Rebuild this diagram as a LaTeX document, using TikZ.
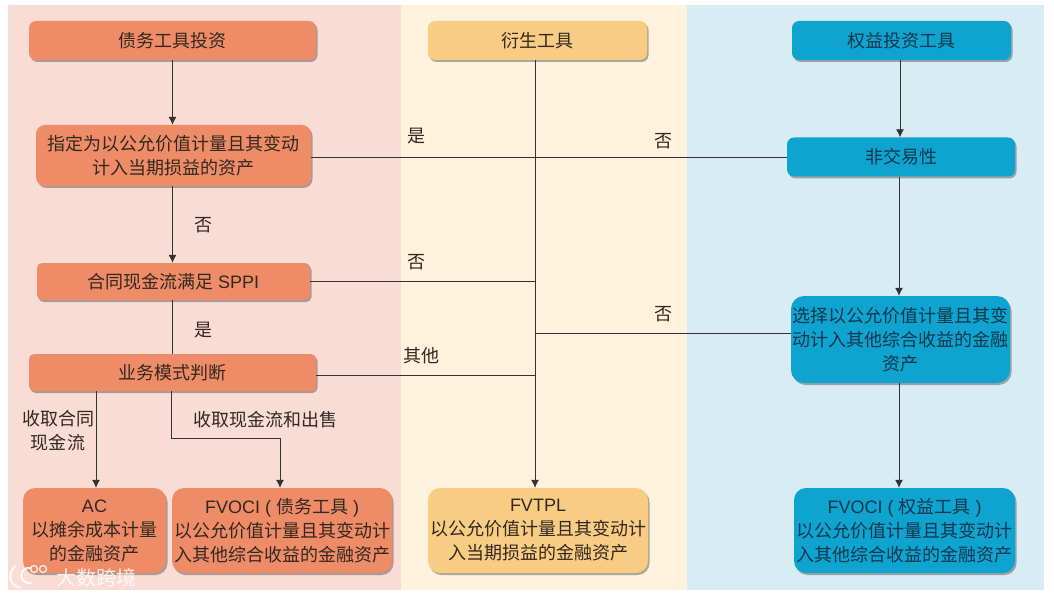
\documentclass[tikz,border=0pt]{standalone}
\usepackage{fontspec}
\setmainfont{Noto Sans CJK SC}
\newfontfamily\latf{Liberation Sans}
\usetikzlibrary{shadows,arrows.meta}
\definecolor{bgpink}{HTML}{F9DCD3}
\definecolor{bgcream}{HTML}{FEF2DC}
\definecolor{bgblue}{HTML}{D8ECF4}
\definecolor{orbox}{HTML}{EE8C68}
\definecolor{yebox}{HTML}{F9CC83}
\definecolor{blbox}{HTML}{0FA3CF}
\definecolor{inkdark}{HTML}{33281F}
\definecolor{inkblue}{HTML}{11384F}
\tikzset{
  fs/.style={font=\fontsize{18}{24}\selectfont},
  box/.style={rounded corners=#1,align=center,fs,text=inkdark,inner sep=0pt,
     drop shadow={shadow xshift=1.5pt,shadow yshift=-2pt,opacity=.45,fill=black!70}},
  box/.default=7pt,
  orb/.style={box=#1,fill=orbox},
  orb/.default=7pt,
  yeb/.style={box=#1,fill=yebox},
  yeb/.default=7pt,
  blb/.style={box=#1,fill=blbox,text=inkblue},
  blb/.default=7pt,
  lab/.style={fs,text=inkdark,inner sep=0pt,align=center},
  flow/.style={draw=black!80,line width=.8pt},
  arr/.style={flow,-{Latex[length=8pt,width=8pt]}},
}
\begin{document}
\begin{tikzpicture}[x=1pt,y=-1pt]
\useasboundingbox (0,0) rectangle (1054,596);
\fill[white] (0,0) rectangle (1054,596);
\fill[bgpink] (8,5) rectangle (401,590);
\fill[bgcream] (401,5) rectangle (687,590);
\fill[bgblue] (687,5) rectangle (1044,590);

\node[orb,minimum width=287pt,minimum height=39pt] (debt) at (172.5,40.5) {债务工具投资};
\node[orb=9pt,minimum width=275pt,minimum height=61pt] (desig) at (173.5,155.5) {指定为以公允价值计量且其变动\\计入当期损益的资产};
\node[orb=5pt,minimum width=273pt,minimum height=37pt] (sppi) at (173.5,281.5) {合同现金流满足 {\latf SPPI}};
\node[orb=5pt,minimum width=287pt,minimum height=37pt] (model) at (172.5,372.5) {业务模式判断};
\node[orb=12pt,minimum width=143pt,minimum height=85pt] (ac) at (94.5,530.5) {{\latf AC}\\以摊余成本计量\\的金融资产};
\node[orb=12pt,minimum width=220pt,minimum height=85pt] (fvd) at (282,530.5) {{\latf FVOCI ( }债务工具{\latf{} )}\\以公允价值计量且其变动计\\入其他综合收益的金融资产};

\node[yeb,minimum width=219pt,minimum height=39pt] (deriv) at (537.5,40.5) {衍生工具};
\node[yeb=12pt,minimum width=220pt,minimum height=85pt] (fvtpl) at (538,530.5) {{\latf FVTPL}\\以公允价值计量且其变动计\\入当期损益的金融资产};

\node[blb,minimum width=219pt,minimum height=39pt] (equity) at (901.5,40.5) {权益投资工具};
\node[blb,minimum width=228pt,minimum height=39pt] (nontrade) at (901,157) {非交易性};
\node[blb=13pt,minimum width=219pt,minimum height=87pt] (choose) at (900.5,339.5) {选择以公允价值计量且其变\\动计入其他综合收益的金融\\资产};
\node[blb=12pt,minimum width=221pt,minimum height=85pt] (fve) at (904.5,530.5) {{\latf FVOCI ( }权益工具{\latf{} )}\\以公允价值计量且其变动计\\入其他综合收益的金融资产};

% helper points
\coordinate (trunk) at (535,60);
\coordinate (acx) at (96,391);
\coordinate (fvx) at (171,391);
\coordinate (bend) at (171,438);
\coordinate (leftx) at (172,300);

\draw[arr] (debt.south) -- (desig.north -| debt.south);
\draw[arr] (desig.south -| debt.south) -- (sppi.north -| debt.south);
\draw[flow] (leftx) -- (model.north -| leftx);
\draw[arr] (acx) -- (ac.north -| acx);
\draw[arr] (fvx) -- (bend) -| (fvd.north -| 280,0);
\draw[arr] (trunk) -- (fvtpl.north -| trunk);
\draw[flow] (desig.east |- nontrade.west) -- (nontrade.west);
\draw[flow] (sppi.east) -- (sppi.east -| trunk);
\draw[flow] (model.east |- 0,375) -- (trunk |- 0,375);
\draw[flow] (trunk |- 0,333) -- (choose.west |- 0,333);
\draw[arr] (equity.south -| 900,0) -- (nontrade.north -| 900,0);
\draw[arr] (nontrade.south -| 899,0) -- (choose.north -| 899,0);
\draw[arr] (choose.south -| 899,0) -- (fve.north -| 899,0);

\node[lab] (l1) at (416,136) {是};
\node[lab] (l2) at (663,141) {否};
\node[lab] (l3) at (203,225) {否};
\node[lab] (l4) at (416,262) {否};
\node[lab] (l5) at (203,330) {是};
\node[lab] (l6) at (663,314) {否};
\node[lab] (l7) at (421,356) {其他};
\node[lab] (l8) at (58,431) {收取合同\\现金流};
\node[lab] (l9) at (265,420) {收取现金流和出售};

% watermark
\draw[white,opacity=.85,line width=2pt,line cap=round] (15,566) .. controls (7,574) and (10,587) .. (20,587) (31,568) .. controls (19,566) and (17,584) .. (31,583);
\draw[white,opacity=.85,line width=1.3pt] (34,569) circle (3.5pt) (43,569) circle (3.5pt);
\node[font=\fontsize{20}{22}\selectfont,text=white,opacity=.85,inner sep=0pt] (wm) at (96,578) {大数跨境};
\end{tikzpicture}
\end{document}
